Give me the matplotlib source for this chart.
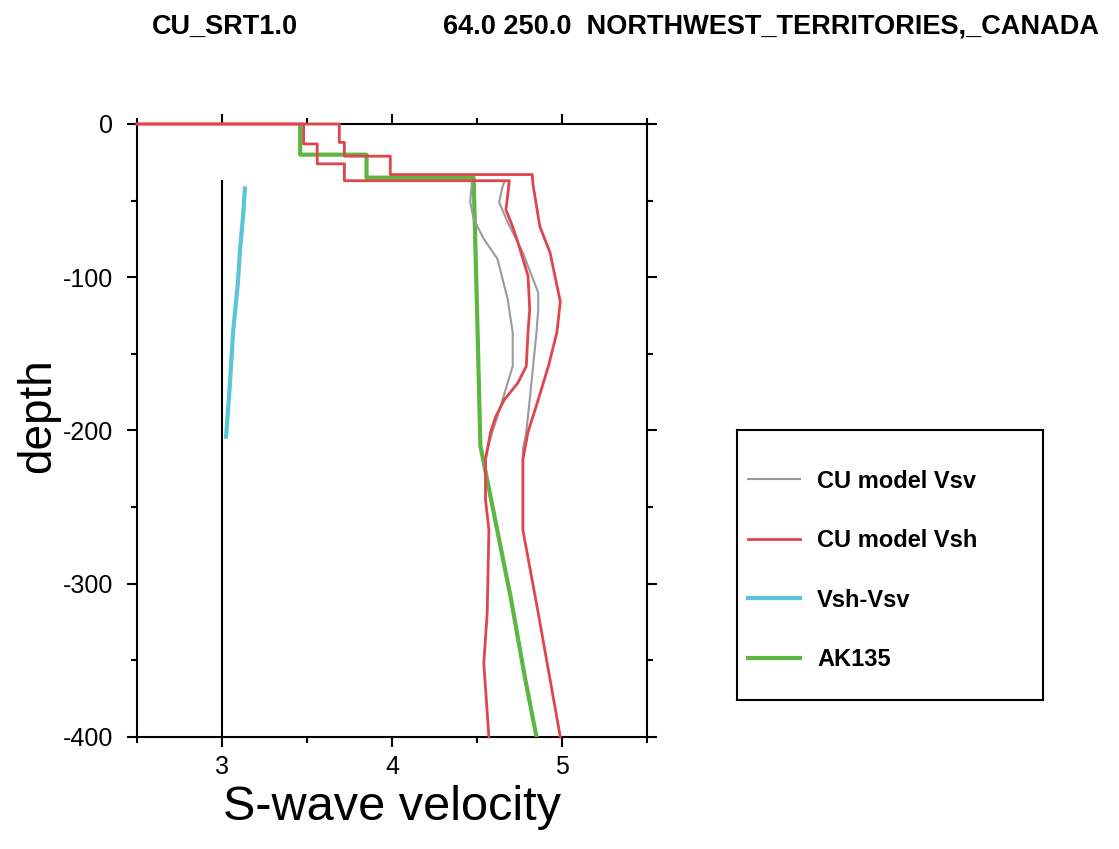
import matplotlib
matplotlib.use('Agg')
import matplotlib.pyplot as plt
from matplotlib.ticker import MultipleLocator

plt.rcParams['font.family'] = ['Liberation Sans', 'DejaVu Sans']
plt.rcParams['axes.unicode_minus'] = False

# CU model Vsh, upper and lower bounds (depth in km, velocity km/s)
vsh_hi_depth = [0, 0, -12, -12, -21, -21, -33, -33, -40, -67, -84, -116, -136, -158, -180, -201, -219, -245, -265, -319, -400]
vsh_hi_vel = [2.5, 3.69, 3.69, 3.72, 3.72, 3.99, 3.99, 4.825, 4.83, 4.87, 4.93, 4.99, 4.97, 4.92, 4.86, 4.80, 4.77, 4.77, 4.77, 4.86, 4.99]
vsh_lo_depth = [0, 0, -13, -13, -26, -26, -37, -37, -47, -56, -67, -77, -99, -121, -136, -158, -169, -180, -191, -201, -219, -245, -265, -319, -352, -400]
vsh_lo_vel = [2.5, 3.48, 3.48, 3.56, 3.56, 3.72, 3.72, 4.69, 4.68, 4.67, 4.71, 4.74, 4.80, 4.81, 4.80, 4.79, 4.74, 4.66, 4.61, 4.58, 4.55, 4.55, 4.57, 4.56, 4.54, 4.57]

# CU model Vsv, upper and lower bounds
vsv_hi_depth = [-38, -41, -51, -64, -84, -110, -121, -136, -158, -180, -201, -212, -219]
vsv_hi_vel = [4.66, 4.65, 4.63, 4.68, 4.77, 4.86, 4.86, 4.85, 4.83, 4.81, 4.79, 4.77, 4.77]
vsv_lo_depth = [-38, -51, -62, -75, -88, -114, -136, -158, -180, -191, -201, -217]
vsv_lo_vel = [4.47, 4.46, 4.48, 4.54, 4.62, 4.68, 4.71, 4.71, 4.65, 4.62, 4.59, 4.55]

# Vsh - Vsv (plotted offset around 3)
diff_depth = [-42, -60, -82, -103, -136, -169, -204]
diff_vel = [3.135, 3.124, 3.106, 3.094, 3.065, 3.047, 3.024]
zero_depth = [-37, -400]
zero_vel = [3.0, 3.0]

# AK135 reference
ak_depth = [0, -20, -20, -35, -35, -120, -165, -210, -260, -310, -360, -400]
ak_vel = [3.46, 3.46, 3.85, 3.85, 4.48, 4.50, 4.51, 4.52, 4.61, 4.70, 4.78, 4.85]

red = '#e0444c'
grey = '#9a9a9a'
green = '#5cb640'
cyan = '#5cc3d8'

fig = plt.figure(figsize=(11.19, 8.49), dpi=100)
ax = fig.add_axes([137 / 1119, 1 - 737 / 849, 510 / 1119, 613 / 849])

ax.plot(zero_vel, zero_depth, color='black', lw=1.5)
ax.plot(diff_vel, diff_depth, color=cyan, lw=3, label='Vsh-Vsv', zorder=3)
ax.plot(ak_vel, ak_depth, color=green, lw=3, label='AK135', zorder=3)
ax.plot(vsv_hi_vel, vsv_hi_depth, color=grey, lw=1.5, label='CU model Vsv', zorder=3)
ax.plot(vsv_lo_vel, vsv_lo_depth, color=grey, lw=1.5, zorder=3)
ax.plot(vsh_hi_vel, vsh_hi_depth, color=red, lw=2, label='CU model Vsh', zorder=4, clip_on=False)
ax.plot(vsh_lo_vel, vsh_lo_depth, color=red, lw=2, zorder=4, clip_on=False)

ax.set_xlim(2.5, 5.5)
ax.set_ylim(-400, 0)
ax.xaxis.set_major_locator(MultipleLocator(1))
ax.xaxis.set_minor_locator(MultipleLocator(0.5))
ax.yaxis.set_major_locator(MultipleLocator(100))
ax.yaxis.set_minor_locator(MultipleLocator(50))
ax.tick_params(which='both', direction='out', top=True, right=True, width=1.5, labelsize=18)
ax.tick_params(which='major', length=7)
ax.tick_params(which='minor', length=4)
ax.tick_params(axis='x', which='major', pad=6)
ax.tick_params(axis='y', which='major', pad=10)
for s in ax.spines.values():
    s.set_linewidth(1.5)

ax.set_xlabel('S-wave velocity', fontsize=35, labelpad=4)
ax.set_ylabel('depth', fontsize=33)
ax.yaxis.set_label_coords(-0.15, 0.525)

fig.text(225 / 1119, 1 - 27 / 849, 'CU_SRT1.0', fontsize=19.5, fontweight='bold', ha='center', va='center')
fig.text(771 / 1119, 1 - 27 / 849, '64.0 250.0  NORTHWEST_TERRITORIES,_CANADA', fontsize=19.5, fontweight='bold', ha='center', va='center')

# legend box
lax = fig.add_axes([737 / 1119, 1 - 700 / 849, 306 / 1119, 270 / 849])
lax.set_xticks([])
lax.set_yticks([])
for s in lax.spines.values():
    s.set_linewidth(1.5)
handles, labels = ax.get_legend_handles_labels()
order = ['CU model Vsv', 'CU model Vsh', 'Vsh-Vsv', 'AK135']
hmap = dict(zip(labels, handles))
lax.legend([hmap[k] for k in order], order, loc='center left', bbox_to_anchor=(0, 0.48),
           frameon=False, prop={'weight': 'bold', 'size': 17}, handlelength=2.2,
           handletextpad=0.75, labelspacing=1.55, borderpad=0, borderaxespad=0.45)

fig.savefig('out.png', dpi=100)
